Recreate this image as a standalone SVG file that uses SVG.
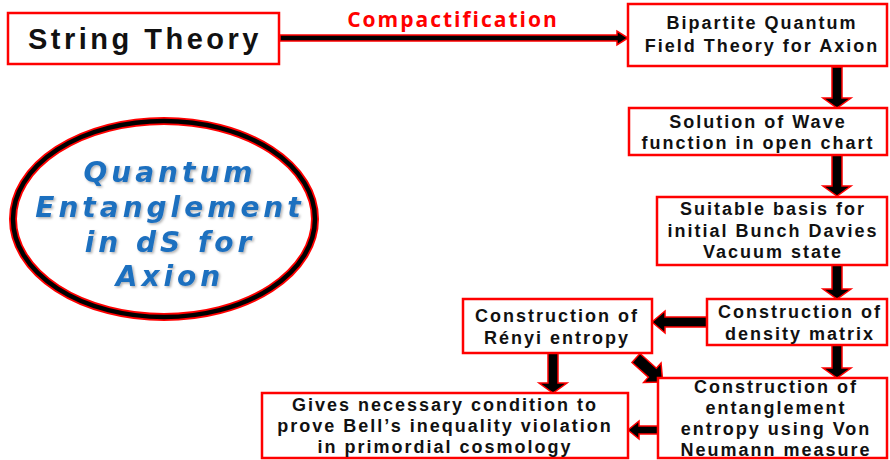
<svg xmlns="http://www.w3.org/2000/svg" width="890" height="460" viewBox="0 0 890 460">
<defs>
<style>
.box{fill:#fff;stroke:#ff0000;stroke-width:2.5}
.t{font-family:"Liberation Sans",Arial,sans-serif;font-weight:bold;font-size:18px;letter-spacing:2px;fill:#111;text-anchor:middle}
.big{font-size:29px;letter-spacing:3.5px}
.arr{fill:#000;stroke:#ff0000;stroke-width:1.5;stroke-linejoin:miter}
.lbl{font-family:"Open Sans","Liberation Sans",sans-serif;font-weight:bold;font-size:21px;letter-spacing:2px;fill:#ff0000;text-anchor:middle}
.qe{font-family:"DejaVu Sans",sans-serif;font-weight:bold;font-style:italic;font-size:28px;letter-spacing:4px;fill:#1f6fbf;text-anchor:middle}
</style>
<filter id="sh" x="-10%" y="-10%" width="120%" height="130%">
<feDropShadow dx="1.5" dy="1.5" stdDeviation="0.8" flood-color="#000" flood-opacity="0.3"/>
</filter>
</defs>
<rect width="890" height="460" fill="#fff"/>

<g id="connectors">
<path class="arr" d="M280,35 L617,35 L617,31 L628,38 L617,45 L617,41 L280,41 Z"/>
<text class="lbl" x="453" y="27">Compactification</text>
<polygon class="arr" points="832,67 842,67 842,98 851,98 837,108 823,98 832,98"/>
<polygon class="arr" points="832,155 842,155 842,186 851,186 837,196 823,186 832,186"/>
<polygon class="arr" points="832,265 842,265 842,289 851,289 837,299 823,289 832,289"/>
<polygon class="arr" points="832,345 842,345 842,368 851,368 837,378 823,368 832,368"/>
<polygon class="arr" points="707,317 665,317 665,311 652,322 665,333 665,327 707,327"/>
<polygon class="arr" points="548,353 558,353 558,383 567,383 553,393 539,383 548,383"/>
<polygon class="arr" points="658,426 639,426 639,421 628,430 639,439 639,434 658,434"/>
<polygon class="arr" transform="rotate(42 636 358)" points="636,352 658,352 658,345 672,358 658,371 658,364 636,364"/>
</g>

<g id="string-theory">
<rect class="box" x="8" y="13" width="271" height="51"/>
<text class="t big" x="145" y="49">String Theory</text>
</g>

<g id="bipartite">
<rect class="box" x="628" y="4" width="259" height="62"/>
<text class="t" x="762" y="29">Bipartite Quantum</text>
<text class="t" x="762" y="52">Field Theory for Axion</text>
</g>

<g id="solution">
<rect class="box" x="629" y="108" width="258" height="47"/>
<text class="t" x="758" y="128">Solution of Wave</text>
<text class="t" x="758" y="149">function in open chart</text>
</g>

<g id="basis">
<rect class="box" x="657" y="197" width="230" height="68"/>
<text class="t" x="773" y="215">Suitable basis for</text>
<text class="t" x="773" y="237">initial Bunch Davies</text>
<text class="t" x="773" y="258">Vacuum state</text>
</g>

<g id="density">
<rect class="box" x="707" y="299" width="180" height="46"/>
<text class="t" x="800" y="318">Construction of</text>
<text class="t" x="800" y="340">density matrix</text>
</g>

<g id="renyi">
<rect class="box" x="463" y="299" width="189" height="54"/>
<text class="t" x="557" y="322">Construction of</text>
<text class="t" x="557" y="344">Rényi entropy</text>
</g>

<g id="entanglement">
<rect class="box" x="658" y="378" width="229" height="80"/>
<text class="t" x="776" y="393">Construction of</text>
<text class="t" x="776" y="414">entanglement</text>
<text class="t" x="776" y="435">entropy using Von</text>
<text class="t" x="776" y="456">Neumann measure</text>
</g>

<g id="bell">
<rect class="box" x="262" y="393" width="366" height="65"/>
<text class="t" x="445" y="411">Gives necessary condition to</text>
<text class="t" x="445" y="432">prove Bell’s inequality violation</text>
<text class="t" x="445" y="453">in primordial cosmology</text>
</g>

<g id="title-ellipse">
<ellipse cx="164" cy="219" rx="151" ry="98" fill="#fff" stroke="#ff0000" stroke-width="8"/>
<ellipse cx="164" cy="219" rx="151" ry="98" fill="none" stroke="#000" stroke-width="4.5"/>
<g filter="url(#sh)">
<text class="qe" x="170" y="182">Quantum</text>
<text class="qe" x="170" y="217">Entanglement</text>
<text class="qe" x="170" y="252">in dS for</text>
<text class="qe" x="170" y="286">Axion</text>
</g>
</g>
</svg>
